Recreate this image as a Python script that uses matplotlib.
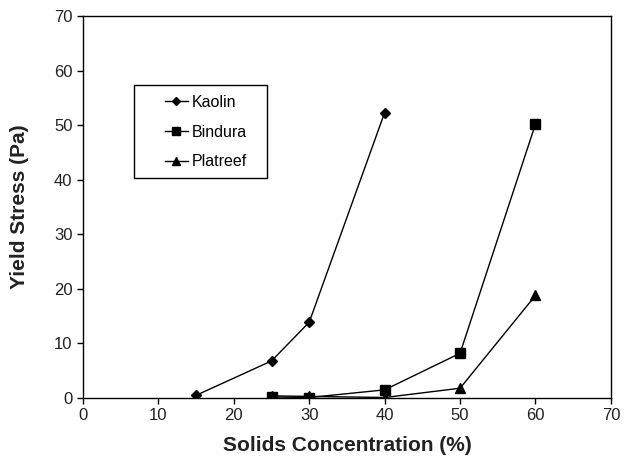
import matplotlib
matplotlib.use("Agg")
import matplotlib.pyplot as plt
from matplotlib.patches import Rectangle

plt.rcParams['font.family'] = ['Liberation Sans', 'DejaVu Sans']

kaolin_x = [15, 25, 30, 40]
kaolin_y = [0.5, 6.8, 13.9, 52.3]
bindura_x = [25, 30, 40, 50, 60]
bindura_y = [0.2, 0.1, 1.5, 8.2, 50.2]
platreef_x = [25, 30, 40, 50, 60]
platreef_y = [0.4, 0.3, 0.1, 1.8, 18.8]

fig = plt.figure(figsize=(6.24, 4.57), dpi=100)
ax = fig.add_axes([0.133, 0.129, 0.846, 0.836])

ax.plot(kaolin_x, kaolin_y, color='black', lw=1, marker='D', ms=5.5, label='Kaolin')
ax.plot(bindura_x, bindura_y, color='black', lw=1, marker='s', ms=7, label='Bindura')
ax.plot(platreef_x, platreef_y, color='black', lw=1, marker='^', ms=7.5, label='Platreef')

ax.set_xlim(0, 70)
ax.set_ylim(0, 70)
ax.set_xticks(range(0, 71, 10))
ax.set_yticks(range(0, 71, 10))
ax.tick_params(direction='out', length=4, width=1, labelsize=12, labelcolor='#222222')
for s in ax.spines.values():
    s.set_linewidth(1)
ax.set_xlabel('Solids Concentration (%)', fontsize=15, fontweight='bold', color='#222222', labelpad=9)
ax.set_ylabel('Yield Stress (Pa)', fontsize=15, fontweight='bold', color='#222222', labelpad=18)

ax.add_patch(Rectangle((0.0966, 0.576), 0.252, 0.243, transform=ax.transAxes,
                       fill=False, edgecolor='black', lw=1, zorder=5))
leg = ax.legend(loc='upper left', bbox_to_anchor=(0.155, 0.793), fontsize=11.5,
                frameon=False, handlelength=1.45, markerscale=0.75,
                labelspacing=0.92, borderpad=0, handletextpad=0.25, borderaxespad=0)

fig.savefig('out.png', dpi=100)
